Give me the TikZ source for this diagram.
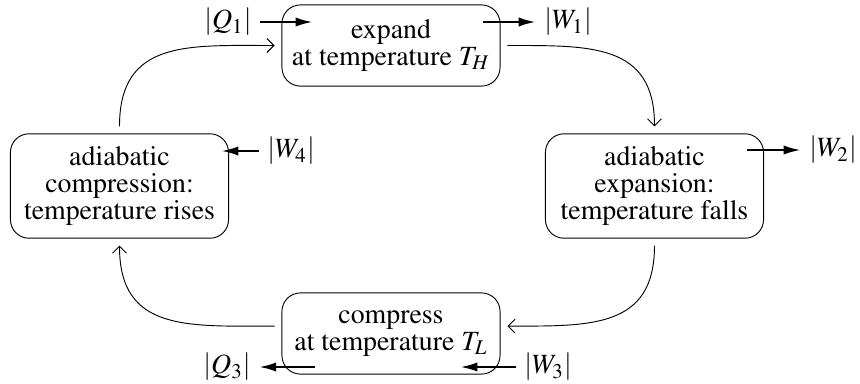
\documentclass[tikz,border=0pt]{standalone}
\usepackage[T1]{fontenc}
\usepackage{mathptmx}
\usetikzlibrary{arrows.meta}
\tikzset{
  stage/.style={draw, rounded corners=8pt, align=center, minimum width=94pt,
    font=\fontsize{12}{11.5}\selectfont},
  cyc/.style={-{Straight Barb[length=3pt, width=6pt]}, shorten <=3pt, shorten >=3pt, looseness=1.3},
  work/.style={line width=1.1pt, -{Latex[length=7.5pt, width=4pt]}},
  amount/.style={font=\fontsize{12}{14}\selectfont},
}

\begin{document}
\begin{tikzpicture}[x=0.431pt, y=-0.431pt]
                        \useasboundingbox (0,0) rectangle (860,383);

                        \node[stage, minimum height=35pt] (expand) at (391,45.5) {expand\\at temperature $T_H$};
                        \node[stage, minimum height=45pt] (adexp) at (654.5,186) {adiabatic\\expansion:\\temperature falls};
                        \node[stage, minimum height=35pt] (compress) at (391,333.5) {compress\\at temperature $T_L$};
                        \node[stage, minimum height=45pt] (adcomp) at (119.5,186) {adiabatic\\compression:\\temperature rises};

                        \draw[cyc] (adcomp.north) to[out=90, in=180] (expand.west);
                        \draw[cyc] (expand.east) to[out=0, in=90] (adexp.north);
                        \draw[cyc] (adexp.south) to[out=-90, in=0] ([yshift=3.2pt]compress.east);
                        \draw[cyc] ([yshift=3.2pt]compress.west) to[out=180, in=-90] (adcomp.south);

                        \node[amount] (Q1) at (228,22) {$|Q_1|$};
                        \node[amount] (W1) at (568,22) {$|W_1|$};
                        \node[amount] (W2) at (833,150) {$|W_2|$};
                        \node[amount] (W3) at (548,367) {$|W_3|$};
                        \node[amount] (Q3) at (227,367) {$|Q_3|$};
                        \node[amount] (W4) at (291,151) {$|W_4|$};

                        \coordinate (q1tip) at (313,22);
                        \coordinate (w1tail) at (483,22);
                        \coordinate (w2tail) at (747,150);
                        \coordinate (w3tip) at (460,367);
                        \coordinate (q3tail) at (315,367);
                        \coordinate (w4tip) at (221,151);

                        \draw[work] (Q1) -- (q1tip);
                        \draw[work] (w1tail) -- (W1);
                        \draw[work] (w2tail) -- (W2);
                        \draw[work] (W3) -- (w3tip);
                        \draw[work] (q3tail) -- (Q3);
                        \draw[work] (W4) -- (w4tip);
                    \end{tikzpicture}
\end{document}
